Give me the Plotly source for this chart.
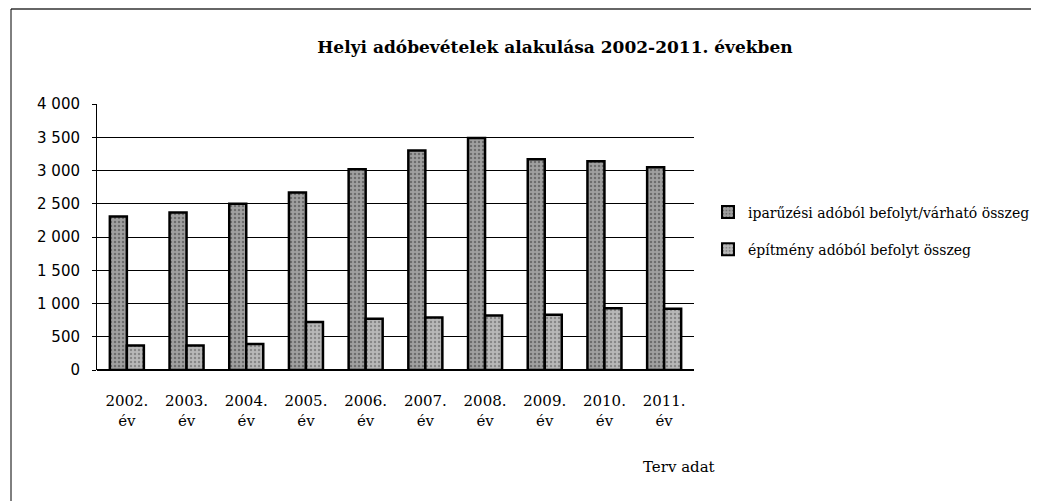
import plotly.graph_objects as go

categories = ["2002.<br>év", "2003.<br>év", "2004.<br>év", "2005.<br>év", "2006.<br>év",
              "2007.<br>év", "2008.<br>év", "2009.<br>év", "2010.<br>év", "2011.<br>év"]
iparuzesi = [2310, 2370, 2500, 2670, 3020, 3300, 3490, 3170, 3140, 3050]
epitmeny = [370, 370, 390, 720, 770, 790, 820, 830, 930, 920]
series_names = ["iparűzési adóból befolyt/várható összeg", "építmény adóból befolyt összeg"]
y_ticks = [0, 500, 1000, 1500, 2000, 2500, 3000, 3500, 4000]

# page body has an 8px margin, so the figure is drawn offset by 8px
W, H = 1031, 493
L, R, T, B = 89, 686, 96, 362  # plot area in figure px
pw = R - L
ph = B - T

fig = go.Figure()
fig.add_trace(go.Bar(
    x=categories, y=iparuzesi, name=series_names[0], legendgroup="a",
    marker=dict(color="#9a9a9a", line=dict(color="black", width=2.5),
                pattern=dict(shape=".", fgcolor="#3a3a3a", bgcolor="#a0a0a0", size=4, solidity=0.3)),
))
fig.add_trace(go.Bar(
    x=categories, y=epitmeny, name=series_names[1], legendgroup="b",
    marker=dict(color="#b0b0b0", line=dict(color="black", width=2.5),
                pattern=dict(shape=".", fgcolor="#555555", bgcolor="#b8b8b8", size=4, solidity=0.3)),
))

fig.update_layout(
    width=W, height=H,
    paper_bgcolor="white", plot_bgcolor="white",
    margin=dict(l=L, r=W - R, t=T, b=H - B, autoexpand=False),
    barmode="group", bargap=0.43, bargroupgap=0.0,
    separators=", ",
    title=dict(text="<b>Helyi adóbevételek alakulása 2002-2011. években</b>",
               x=(555 - 8) / W, xanchor="center", y=1 - (47 - 8) / H, yanchor="middle",
               font=dict(family="DejaVu Serif", size=17, color="black")),
    legend=dict(x=(700 - L) / pw, y=1 - (231 - 104) / ph, xanchor="left", yanchor="middle",
                font=dict(family="DejaVu Serif", size=14, color="black"),
                tracegroupgap=16, itemsizing="constant", itemwidth=30),
    showlegend=True,
    font=dict(family="DejaVu Serif", color="black"),
)
fig.update_xaxes(showline=False, tickfont=dict(family="DejaVu Serif", size=15, color="black"),
                 ticks="", showgrid=False, ticklabelstandoff=20, automargin=False)
fig.update_yaxes(range=[0, 4000], tickvals=y_ticks, tickformat=",d",
                 showgrid=True, gridcolor="black", gridwidth=1,
                 showline=True, linecolor="black", linewidth=1,
                 ticks="outside", ticklen=4, tickcolor="black", automargin=False,
                 zeroline=True, zerolinecolor="black", ticklabelstandoff=9,
                 tickfont=dict(family="DejaVu Sans", size=15, color="black"))

fig.add_annotation(text="Terv adat", xref="paper", yref="paper",
                   x=(679 - 97) / pw, y=-(467 - 370) / ph, xanchor="center", yanchor="middle",
                   showarrow=False, font=dict(family="DejaVu Serif", size=15, color="black"))
# outer chart frame: top and left edges only
top_y = (B - 1) / ph
left_x = (3 - L) / pw
fig.add_shape(type="line", xref="paper", yref="paper",
              x0=left_x, x1=(W - L) / pw, y0=top_y, y1=top_y, line=dict(color="#333333", width=1.5))
fig.add_shape(type="line", xref="paper", yref="paper",
              x0=left_x, x1=left_x, y0=top_y, y1=-(H - B) / ph, line=dict(color="black", width=1))

fig.write_html("out.html")
